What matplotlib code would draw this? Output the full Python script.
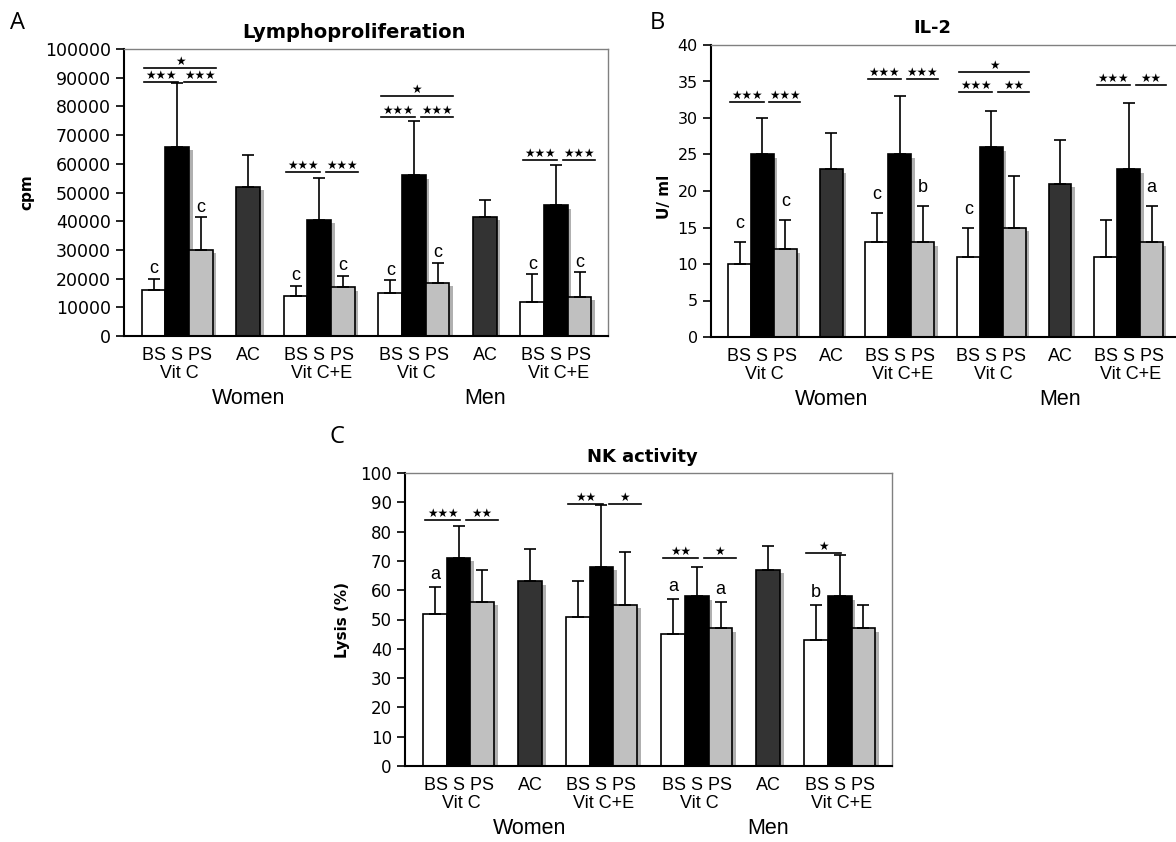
import matplotlib
matplotlib.use("Agg")
import matplotlib.pyplot as plt
import numpy as np

# bar positions: three-bar groups (BS, S, PS) and the two AC bars
group_pos = [0, 6, 10, 16]
ac_pos = [4, 14]
group_names = ["Vit C", "Vit C+E", "Vit C", "Vit C+E"]
sex_names = ["Women", "Men"]
bar_names = ["BS", "S", "PS"]

# Lymphoproliferation (cpm): rows = groups, cols = BS, S, PS
lymph_mean = [[16000, 66000, 30000], [14000, 40500, 17000],
              [15000, 56000, 18500], [12000, 45500, 13700]]
lymph_sd = [[4000, 22000, 11500], [3500, 14500, 4000],
            [4500, 19000, 7000], [9500, 14000, 8500]]
lymph_ac = [52000, 41500]
lymph_ac_sd = [11000, 6000]
lymph_letters = [["c", "", "c"], ["c", "", "c"], ["c", "", "c"], ["c", "", "c"]]
lymph_sig = [(0, "all", 93400, "*"), (0, "left", 88500, "***"), (0, "right", 88500, "***"),
             (1, "left", 57100, "***"), (1, "right", 57100, "***"),
             (2, "all", 83700, "*"), (2, "left", 76300, "***"), (2, "right", 76300, "***"),
             (3, "left", 61300, "***"), (3, "right", 61300, "***")]

# IL-2 (U/ml)
il2_mean = [[10, 25, 12], [13, 25, 13], [11, 26, 15], [11, 23, 13]]
il2_sd = [[3, 5, 4], [4, 8, 5], [4, 5, 7], [5, 9, 5]]
il2_ac = [23, 21]
il2_ac_sd = [5, 6]
il2_letters = [["c", "", "c"], ["c", "", "b"], ["c", "", ""], ["", "", "a"]]
il2_sig = [(0, "left", 32.2, "***"), (0, "right", 32.2, "***"),
           (1, "left", 35.3, "***"), (1, "right", 35.3, "***"),
           (2, "all", 36.3, "*"), (2, "left", 33.5, "***"), (2, "right", 33.5, "**"),
           (3, "left", 34.5, "***"), (3, "right", 34.5, "**")]

# NK activity (lysis %)
nk_mean = [[52, 71, 56], [51, 68, 55], [45, 58, 47], [43, 58, 47]]
nk_sd = [[9, 11, 11], [12, 21, 18], [12, 10, 9], [12, 14, 8]]
nk_ac = [63, 67]
nk_ac_sd = [11, 8]
nk_letters = [["a", "", ""], ["", "", ""], ["a", "", "a"], ["b", "", ""]]
nk_sig = [(0, "left", 84, "***"), (0, "right", 84, "**"),
          (1, "left", 89.4, "**"), (1, "right", 89.4, "*"),
          (2, "left", 71.1, "**"), (2, "right", 71.1, "*"),
          (3, "left", 72.6, "*")]

bar_colors = ["white", "black", "#c0c0c0"]
ac_color = "#333333"
W, H = 1176, 842


def add_axes(fig, left, right, top, bottom):
    return fig.add_axes([left / W, 1 - bottom / H, (right - left) / W, (bottom - top) / H])


def draw_panel(ax, mean, sd, ac, ac_sd, letters, sig, ymax, ystep, letter_off, tick_fs):
    sh = ymax * 0.012
    for g, gx in enumerate(group_pos):
        for i in range(3):
            x = gx + i
            ax.bar(x + 0.15, mean[g][i] - sh, width=1, color="#b0b0b0", zorder=1)
            ax.bar(x, mean[g][i], width=1, color=bar_colors[i], edgecolor="black",
                   linewidth=1.2, zorder=2)
            ax.errorbar(x, mean[g][i], yerr=[[0], [sd[g][i]]], color="black",
                        capsize=4, elinewidth=1.2, capthick=1.2, zorder=3)
            if letters[g][i]:
                ax.annotate(letters[g][i], (x, mean[g][i] + sd[g][i]), xytext=(0, letter_off),
                            textcoords="offset points", ha="center", va="bottom",
                            fontsize=13, family="Liberation Sans")
    for k, x in enumerate(ac_pos):
        ax.bar(x + 0.15, ac[k] - sh, width=1, color="#b0b0b0", zorder=1)
        ax.bar(x, ac[k], width=1, color=ac_color, edgecolor="black", linewidth=1.2, zorder=2)
        ax.errorbar(x, ac[k], yerr=[[0], [ac_sd[k]]], color="black",
                    capsize=4, elinewidth=1.2, capthick=1.2, zorder=3)

    spans = {"left": (-0.4, 1.05), "right": (1.3, 2.65), "all": (-0.4, 2.65)}
    for g, span, y, lab in sig:
        x0 = group_pos[g] + spans[span][0]
        x1 = group_pos[g] + spans[span][1]
        ax.plot([x0, x1], [y, y], color="black", lw=1.2, zorder=4)
        ax.annotate(lab.replace("*", "\u2605"), ((x0 + x1) / 2, y), xytext=(0, 0),
                    textcoords="offset points", ha="center", va="bottom", fontsize=8.5)

    ax.set_xlim(-1.25, 19.2)
    ax.set_ylim(0, ymax)
    ax.set_yticks(np.arange(0, ymax + ystep / 2, ystep))
    ax.tick_params(axis="y", direction="out", length=6, width=1.2, labelsize=tick_fs)
    ax.set_xticks([])
    ax.spines["left"].set_linewidth(1.5)
    ax.spines["bottom"].set_linewidth(1.5)
    for s in ["top", "right"]:
        ax.spines[s].set_color("#808080")
        ax.spines[s].set_linewidth(1)

    # category labels under the axis
    lab_kw = dict(xycoords=("data", "axes fraction"), textcoords="offset points",
                  ha="center", va="center", family="Liberation Sans", annotation_clip=False)
    for g, gx in enumerate(group_pos):
        ax.annotate(" ".join(bar_names), (gx + 1, 0), xytext=(0, -14), fontsize=13, **lab_kw)
        ax.annotate(group_names[g], (gx + 1.1, 0), xytext=(0, -27), fontsize=13, **lab_kw)
    for k, x in enumerate(ac_pos):
        ax.annotate("AC", (x, 0), xytext=(0, -14), fontsize=13, **lab_kw)
        ax.annotate(sex_names[k], (x, 0), xytext=(0, -45), fontsize=15.5, **lab_kw)


fig = plt.figure(figsize=(W / 100, H / 100), dpi=100)

axA = add_axes(fig, 124, 608, 49, 336)
draw_panel(axA, lymph_mean, lymph_sd, lymph_ac, lymph_ac_sd, lymph_letters, lymph_sig,
           100000, 10000, 1, 12.5)
axB = add_axes(fig, 711, 1179, 45, 337)
draw_panel(axB, il2_mean, il2_sd, il2_ac, il2_ac_sd, il2_letters, il2_sig,
           40, 5, 7, 11.5)
axC = add_axes(fig, 405, 892, 473, 766)
draw_panel(axC, nk_mean, nk_sd, nk_ac, nk_ac_sd, nk_letters, nk_sig,
           100, 10, 3, 12)

# titles, y labels and panel letters
fig.text(354 / W, 1 - 33 / H, "Lymphoproliferation", ha="center", va="center",
         fontsize=14, fontweight="bold")
fig.text(932 / W, 1 - 28 / H, "IL-2", ha="center", va="center", fontsize=13, fontweight="bold")
fig.text(642 / W, 1 - 457 / H, "NK activity", ha="center", va="center",
         fontsize=13, fontweight="bold")
fig.text(27 / W, 1 - 192 / H, "cpm", rotation=90, ha="center", va="center",
         fontsize=11, fontweight="bold")
fig.text(665 / W, 1 - 197 / H, "U/ ml", rotation=90, ha="center", va="center",
         fontsize=11, fontweight="bold")
fig.text(342 / W, 1 - 620 / H, "Lysis (%)", rotation=90, ha="center", va="center",
         fontsize=11, fontweight="bold")
for lab, x, y in [("A", 17, 23), ("B", 657, 23), ("C", 337, 437)]:
    fig.text(x / W, 1 - y / H, lab, ha="center", va="center", fontsize=17, family="Open Sans")

fig.savefig("out.png", dpi=100)
